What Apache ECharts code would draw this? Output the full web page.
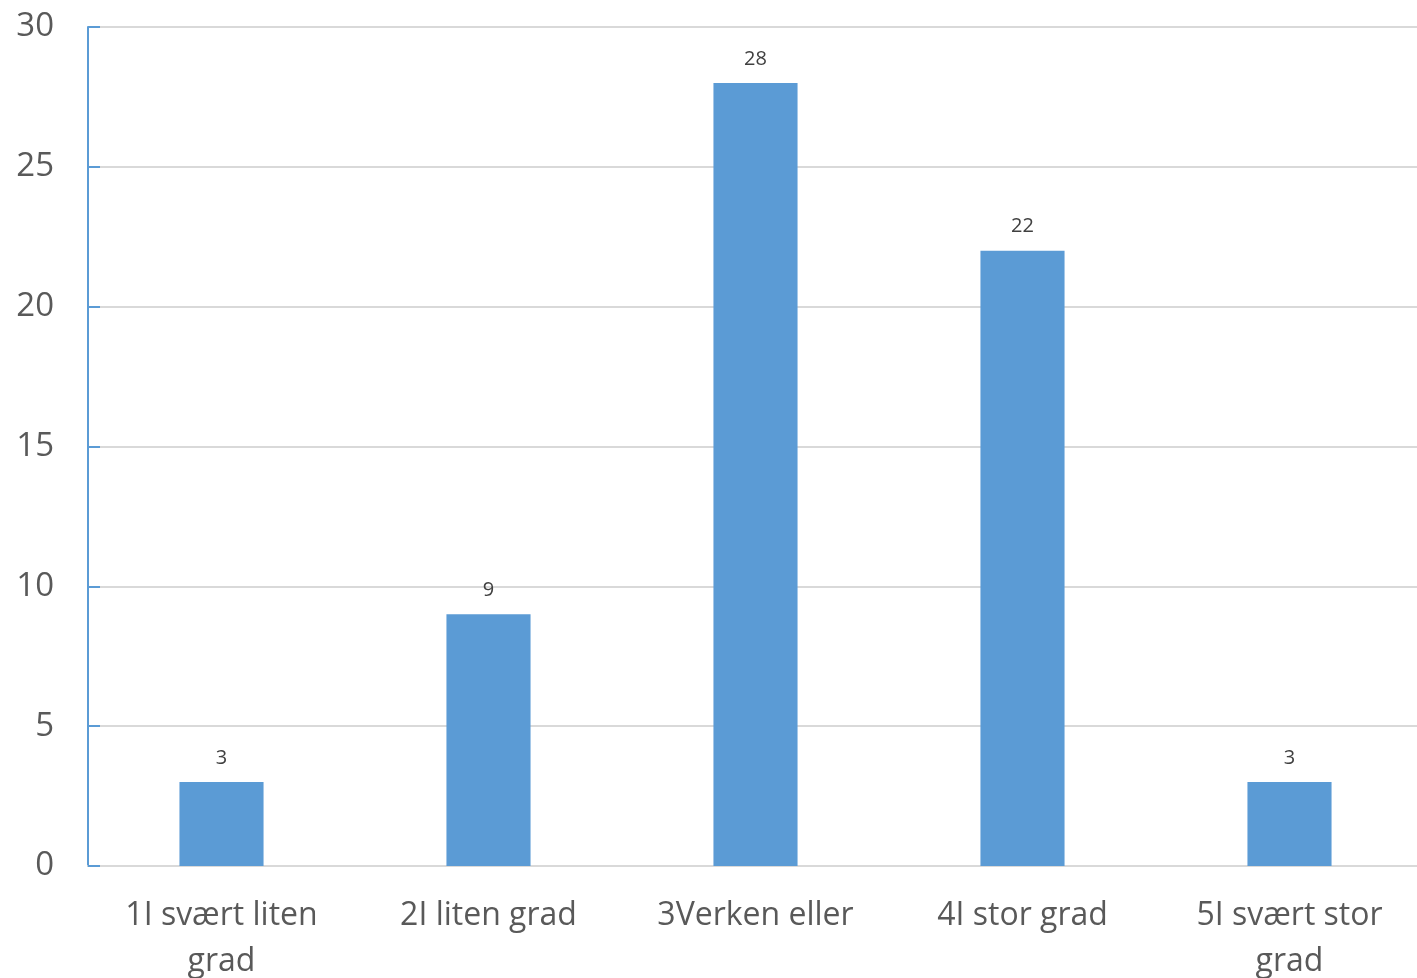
<!DOCTYPE html>
<html>
<head>
<meta charset="utf-8">
<script src="https://cdn.jsdelivr.net/npm/echarts@6/dist/echarts.min.js"></script>
<style>
html,body{margin:0;padding:0;background:#fff;overflow:hidden;}
#chart{width:1417px;height:978px;}
</style>
</head>
<body>
<div id="chart"></div>
<script>
const categories = ["1I svært liten\ngrad", "2I liten grad", "3Verken eller", "4I stor grad", "5I svært stor\ngrad"];
const values = [3, 9, 28, 22, 3];
const yTicks = { min: 0, max: 30, interval: 5 };

const chart = echarts.init(document.getElementById('chart'), null, { renderer: 'canvas' });
chart.setOption({
  animation: false,
  backgroundColor: '#ffffff',
  grid: { left: 88, right: -6, top: 27, bottom: 112, containLabel: false, outerBoundsMode: 'none' },
  xAxis: {
    type: 'category',
    data: categories,
    axisLine: { show: true, lineStyle: { color: '#d9d9d9', width: 2 } },
    axisTick: { show: false },
    axisLabel: {
      color: '#595959',
      fontFamily: 'Open Sans, Noto Sans, sans-serif',
      fontSize: 32,
      lineHeight: 46,
      margin: 27,
      interval: 0
    }
  },
  yAxis: {
    type: 'value',
    min: yTicks.min,
    max: yTicks.max,
    interval: yTicks.interval,
    axisLine: { show: true, lineStyle: { color: '#5b9bd5', width: 2 } },
    axisTick: { show: true, inside: true, length: 12, lineStyle: { color: '#5b9bd5', width: 2 } },
    splitLine: { show: true, lineStyle: { color: '#d9d9d9', width: 2 } },
    axisLabel: {
      color: '#595959',
      fontFamily: 'Open Sans, Noto Sans, sans-serif',
      fontSize: 33,
      margin: 34
    }
  },
  series: [{
    type: 'bar',
    data: values,
    barWidth: '31.5%',
    itemStyle: { color: '#5b9bd5' },
    label: {
      show: true,
      position: 'top',
      distance: 14,
      color: '#404040',
      fontFamily: 'Open Sans, Noto Sans, sans-serif',
      fontSize: 20
    }
  }]
});
</script>
</body>
</html>
